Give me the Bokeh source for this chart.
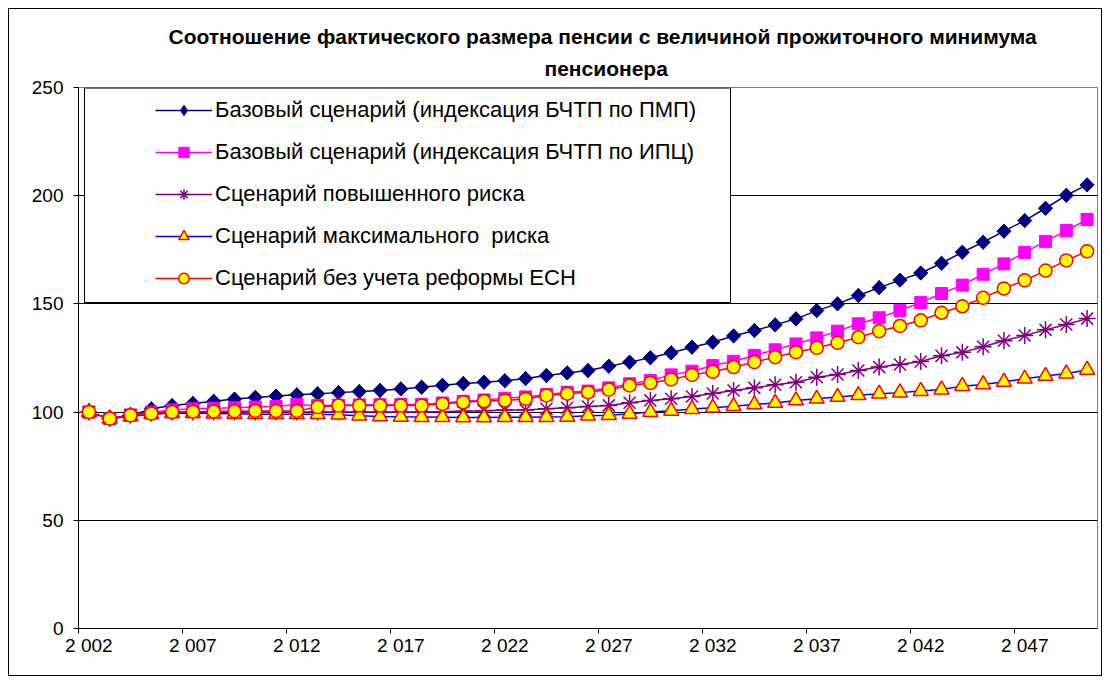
from bokeh.plotting import figure
from bokeh.models import (Range1d, FixedTicker, Legend, LegendItem, BoxAnnotation, Title)
from bokeh.embed import file_html
from bokeh.resources import INLINE
import numpy as np

title_lines = ["Соотношение фактического размера пенсии с величиной прожиточного минимума",
               "пенсионера"]

years = [2002, 2003, 2004, 2005, 2006, 2007, 2008, 2009, 2010, 2011,
         2012, 2013, 2014, 2015, 2016, 2017, 2018, 2019, 2020, 2021,
         2022, 2023, 2024, 2025, 2026, 2027, 2028, 2029, 2030, 2031,
         2032, 2033, 2034, 2035, 2036, 2037, 2038, 2039, 2040, 2041,
         2042, 2043, 2044, 2045, 2046, 2047, 2048, 2049, 2050]

tick_years = [2002, 2007, 2012, 2017, 2022, 2027, 2032, 2037, 2042, 2047]
tick_labels = ["2 002", "2 007", "2 012", "2 017", "2 022", "2 027", "2 032", "2 037", "2 042", "2 047"]
y_ticks = [0, 50, 100, 150, 200, 250]

names = ["Базовый сценарий (индексация БЧТП по ПМП)",
         "Базовый сценарий (индексация БЧТП по ИПЦ)",
         "Сценарий повышенного риска",
         "Сценарий максимального  риска",
         "Сценарий без учета реформы ЕСН"]

base_pmp = [100, 97, 98.5, 101.5, 103, 104, 105, 106, 106.8, 107.4,
            108, 108.5, 109, 109.5, 110, 110.7, 111.5, 112.4, 113.2, 113.8,
            114.5, 115.5, 116.9, 118.1, 119.2, 121.2, 123.1, 125.1, 127.4, 130,
            132.3, 135.2, 137.7, 140.3, 143.1, 146.9, 150, 153.9, 157.5, 161,
            164.3, 168.8, 173.9, 178.5, 183.6, 188.5, 194.2, 200.2, 205]

base_cpi = [100, 97, 98.7, 100, 101, 101.5, 101.8, 102, 102.3, 102.6,
            103.5, 103, 103.2, 103.3, 103.4, 103.5, 103.6, 104.2, 105, 105.6,
            106.4, 107, 108.1, 109.2, 109.7, 111.2, 113.1, 114.6, 117.2, 118.9,
            121.5, 123.5, 126.2, 128.8, 131.5, 134.3, 137.4, 140.8, 143.6, 147,
            150.6, 154.8, 158.7, 163.7, 168.5, 173.8, 178.9, 183.9, 189]

high_risk = [100, 97, 98.5, 99.5, 100, 100, 100, 100, 100, 100,
             100, 100, 100, 100, 100, 100, 100, 100.2, 100.4, 100.6,
             101, 101, 101.5, 102, 102.6, 103.1, 104.3, 105.4, 106.2, 107.2,
             108.6, 110, 111.2, 112.6, 113.8, 116.1, 117.4, 119.2, 120.8, 122,
             123.4, 126, 127.6, 130.2, 133, 135.4, 138, 140.5, 143.2]

max_risk = [100, 97, 98, 99, 99.5, 99.5, 99.3, 99.2, 99, 99,
            99, 99, 98.8, 98.3, 98, 97.8, 97.7, 97.6, 97.5, 97.5,
            97.6, 97.6, 97.7, 97.8, 98.3, 98.6, 99.2, 100, 100.6, 101.4,
            102, 102.7, 103.5, 104.2, 105.4, 106.2, 107, 107.8, 108.5, 109,
            109.7, 110.4, 112, 112.8, 114, 115.4, 116.7, 117.8, 119.5]

no_reform = [100, 97, 98.5, 99.3, 100, 100.2, 100.3, 100.4, 100.5, 100.5,
             100.5, 102.3, 103, 103, 103, 103, 103, 103.8, 104.6, 105.1,
             105.4, 106.1, 107.7, 108.5, 109.2, 110.4, 112.3, 113.5, 115.1, 117.2,
             118.6, 120.8, 123.1, 125.4, 127.7, 129.7, 132, 134.6, 137.4, 139.8,
             142.4, 145.9, 148.9, 152.8, 157.1, 160.9, 165.4, 170.1, 174.3]

FONT = "Liberation Sans"

p = figure(width=1110, height=684, output_backend="svg", toolbar_location=None,
           title=None,
           x_range=Range1d(years[0] - 0.5, years[-1] + 0.5),
           y_range=Range1d(y_ticks[0], y_ticks[-1]),
           min_border_left=78, min_border_right=13, min_border_top=87, min_border_bottom=56)
p.background_fill_color = "white"
p.border_fill_color = "white"
p.border_fill_alpha = 0
p.outline_line_color = "#808080"
p.outline_line_width = 1
p.styles = {"outline": "1px solid black", "outline-offset": "-9px"}

# title: two centred lines (second line nearest to the plot is added first)
title_offsets = [90, 466]
title_standoffs = [-2, 16]
for i in (1, 0):
    p.add_layout(Title(text=title_lines[i], align="left", offset=title_offsets[i],
                       standoff=title_standoffs[i], text_font=FONT, text_font_size="21px",
                       text_font_style="bold", text_color="black"), "above")

# axes
p.xaxis.ticker = FixedTicker(ticks=tick_years, minor_ticks=[t - 0.5 for t in tick_years])
p.xaxis.major_label_overrides = {t: l for t, l in zip(tick_years, tick_labels)}
p.xaxis.major_tick_out = 0
p.xaxis.major_tick_in = 0
p.xaxis.minor_tick_out = 5
p.xaxis.minor_tick_in = 0
p.xaxis.minor_tick_line_color = "black"
p.xaxis.major_label_standoff = 1
p.xaxis.axis_line_color = "black"

p.yaxis.ticker = FixedTicker(ticks=y_ticks)
p.yaxis.major_tick_out = 5
p.yaxis.major_tick_in = 0
p.yaxis.minor_tick_line_color = None
p.yaxis.major_label_standoff = 10
p.yaxis.axis_line_color = "black"

for ax in (p.xaxis, p.yaxis):
    ax.major_label_text_font = FONT
    ax.major_label_text_font_size = "19px"
    ax.major_label_text_color = "black"
    ax.major_tick_line_color = "black"

p.xgrid.visible = False
p.ygrid.ticker = FixedTicker(ticks=y_ticks[1:-1])
p.ygrid.grid_line_color = "black"
p.ygrid.grid_line_width = 1

# series
LW = 1.5
r1l = p.line(years, base_pmp, line_color="#000080", line_width=LW)
# diamond key (drawn underneath the rotated squares, used for the legend symbol)
r1k = p.scatter(years, base_pmp, marker="diamond", size=14,
                fill_color="#000080", line_color="#000080")
r1m = p.scatter(years, base_pmp, marker="square", angle=np.pi / 4, size=10,
                fill_color="#000080", line_color="#000080")
r2l = p.line(years, base_cpi, line_color="#FF00FF", line_width=LW)
r2m = p.scatter(years, base_cpi, marker="square", size=12,
                fill_color="#FF00FF", line_color="#FF00FF")
r3l = p.line(years, high_risk, line_color="#800080", line_width=LW)
r3m = p.scatter(years, high_risk, marker="asterisk", size=17,
                line_color="#800080", line_width=1.5)
r4l = p.line(years, max_risk, line_color="#0000FF", line_width=LW)
r4m = p.scatter(years, max_risk, marker="triangle", size=15,
                fill_color="#FFFF00", line_color="#FF0000", line_width=1.5)
r5l = p.line(years, no_reform, line_color="#FF0000", line_width=LW)
r5m = p.scatter(years, no_reform, marker="circle", size=13,
                fill_color="#FFFF00", line_color="#FF0000", line_width=1.5)

# legend box
box = BoxAnnotation(left=6, right=652, top=540.5, bottom=326,
                    left_units="screen", right_units="screen",
                    top_units="screen", bottom_units="screen",
                    fill_color="white", fill_alpha=1.0,
                    line_color="black", line_width=1, line_alpha=1.0)
p.add_layout(box)

legend = Legend(items=[
    LegendItem(label=names[0], renderers=[r1l, r1k]),
    LegendItem(label=names[1], renderers=[r2l, r2m]),
    LegendItem(label=names[2], renderers=[r3l, r3m]),
    LegendItem(label=names[3], renderers=[r4l, r4m]),
    LegendItem(label=names[4], renderers=[r5l, r5m]),
], location=(77, 337))
legend.padding = 0
legend.margin = 0
legend.spacing = 16
legend.glyph_width = 57
legend.glyph_height = 26
legend.label_height = 26
legend.label_standoff = 3
legend.label_text_font = FONT
legend.label_text_font_size = "22px"
legend.label_text_color = "black"
legend.border_line_alpha = 0
legend.background_fill_alpha = 0
p.add_layout(legend, "center")

open("out.html", "w").write(file_html(p, INLINE))
